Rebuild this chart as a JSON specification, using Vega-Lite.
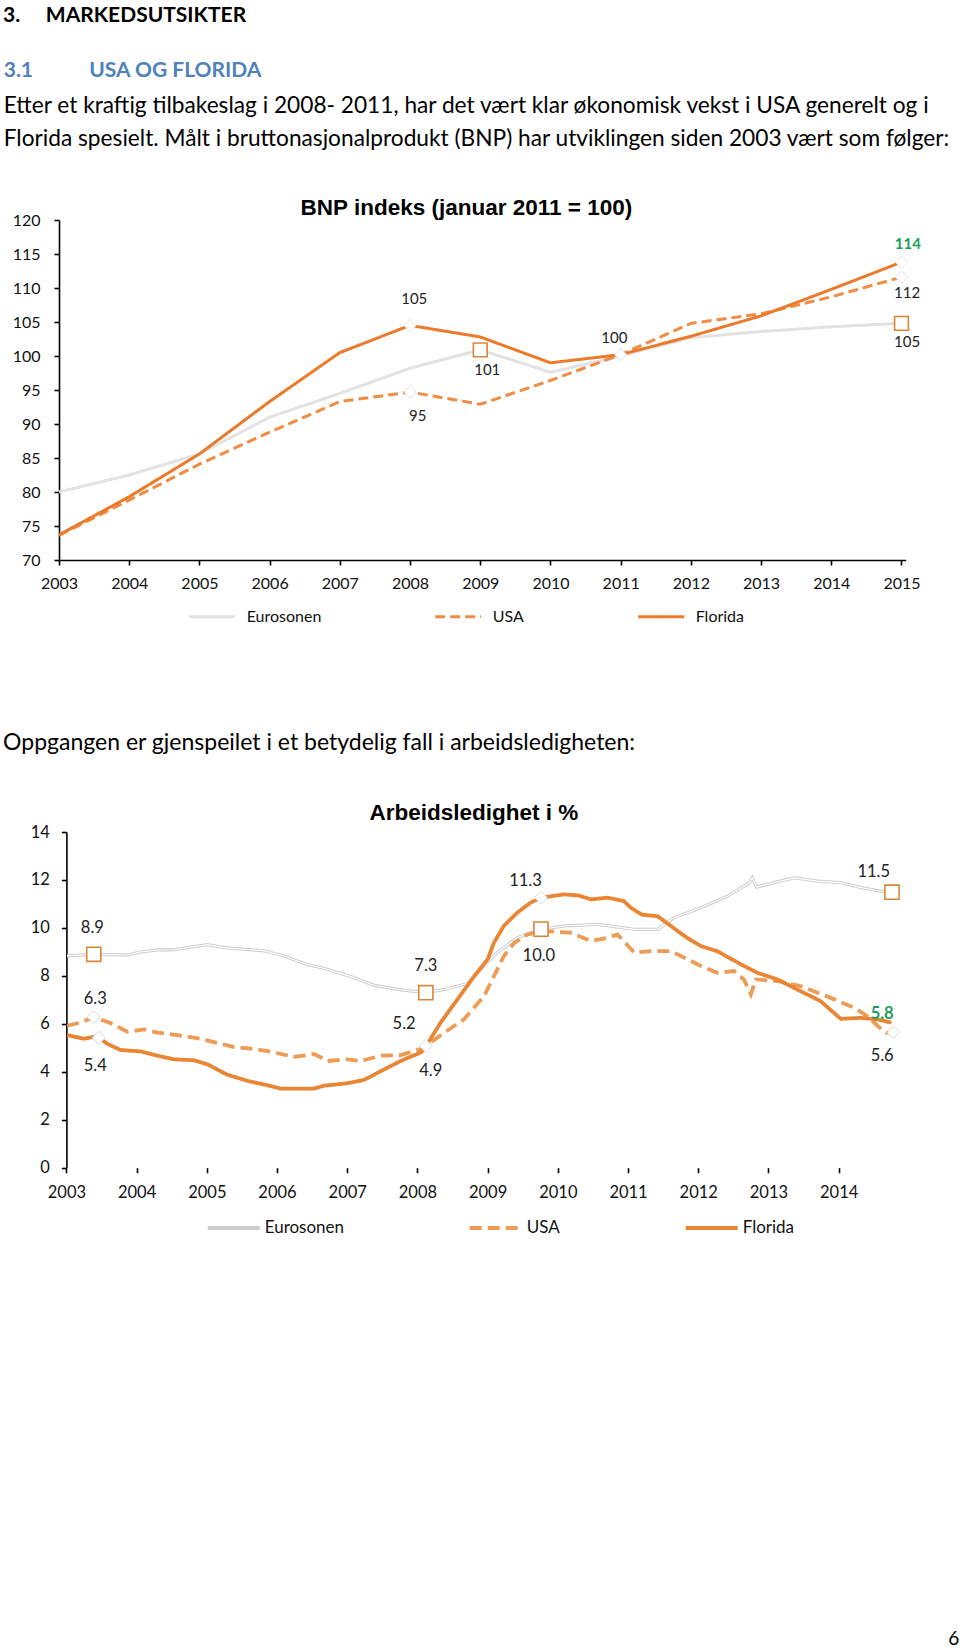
{
  "$schema": "https://vega.github.io/schema/vega-lite/v6.json",
  "background": "white",
  "padding": {"left": 3, "top": 4, "right": 0, "bottom": 0},
  "config": {
    "view": {"stroke": null},
    "font": "Lato",
    "axis": {"grid": false, "domainColor": "#000000", "domainWidth": 1.6, "tickColor": "#000000", "tickWidth": 1.6, "tickSize": 5, "labelFont": "Lato", "labelColor": "#111111", "labelFontSize": 16, "labelOverlap": false, "labelFlush": false}
  },
  "datasets": {
    "bnp": [
      {"year": 2003, "series": "Eurosonen", "value": 80.0}, {"year": 2004, "series": "Eurosonen", "value": 82.5}, {"year": 2005, "series": "Eurosonen", "value": 85.6}, {"year": 2006, "series": "Eurosonen", "value": 91.0}, {"year": 2007, "series": "Eurosonen", "value": 94.5}, {"year": 2008, "series": "Eurosonen", "value": 98.2}, {"year": 2009, "series": "Eurosonen", "value": 100.9}, {"year": 2010, "series": "Eurosonen", "value": 97.6}, {"year": 2011, "series": "Eurosonen", "value": 100.0}, {"year": 2012, "series": "Eurosonen", "value": 102.7}, {"year": 2013, "series": "Eurosonen", "value": 103.6}, {"year": 2014, "series": "Eurosonen", "value": 104.3}, {"year": 2015, "series": "Eurosonen", "value": 104.8},
      {"year": 2003, "series": "USA", "value": 73.6}, {"year": 2004, "series": "USA", "value": 78.8}, {"year": 2005, "series": "USA", "value": 84.1}, {"year": 2006, "series": "USA", "value": 88.8}, {"year": 2007, "series": "USA", "value": 93.3}, {"year": 2008, "series": "USA", "value": 94.7}, {"year": 2009, "series": "USA", "value": 92.9}, {"year": 2010, "series": "USA", "value": 96.4}, {"year": 2011, "series": "USA", "value": 100.2}, {"year": 2012, "series": "USA", "value": 104.8}, {"year": 2013, "series": "USA", "value": 106.2}, {"year": 2014, "series": "USA", "value": 108.7}, {"year": 2015, "series": "USA", "value": 111.6},
      {"year": 2003, "series": "Florida", "value": 73.7}, {"year": 2004, "series": "Florida", "value": 79.3}, {"year": 2005, "series": "Florida", "value": 85.6}, {"year": 2006, "series": "Florida", "value": 93.3}, {"year": 2007, "series": "Florida", "value": 100.5}, {"year": 2008, "series": "Florida", "value": 104.5}, {"year": 2009, "series": "Florida", "value": 102.8}, {"year": 2010, "series": "Florida", "value": 99.0}, {"year": 2011, "series": "Florida", "value": 100.2}, {"year": 2012, "series": "Florida", "value": 102.9}, {"year": 2013, "series": "Florida", "value": 105.9}, {"year": 2014, "series": "Florida", "value": 109.8}, {"year": 2015, "series": "Florida", "value": 113.8}
    ],
    "bnp_sq": [{"year": 2009, "value": 100.9}, {"year": 2015, "value": 104.8}],
    "bnp_dia": [{"year": 2008, "value": 104.5}, {"year": 2008, "value": 94.7}, {"year": 2011, "value": 100.2}, {"year": 2015, "value": 113.8}, {"year": 2015, "value": 111.6}],
    "bnp_lab": [
      {"year": 2008.06, "value": 108.4, "label": "105"},
      {"year": 2008.11, "value": 91.2, "label": "95"},
      {"year": 2009.1, "value": 98.0, "label": "101"},
      {"year": 2010.91, "value": 102.6, "label": "100"},
      {"year": 2015.08, "value": 109.2, "label": "112"},
      {"year": 2015.08, "value": 102.0, "label": "105"}
    ],
    "bnp_key": [{"year": 2015.09, "value": 116.5, "label": "114"}],
    "led": [
      {"t": 2003.01, "series": "Eurosonen", "rate": 8.83}, {"t": 2003.39, "series": "Eurosonen", "rate": 8.9}, {"t": 2003.87, "series": "Eurosonen", "rate": 8.87}, {"t": 2004.06, "series": "Eurosonen", "rate": 9.0}, {"t": 2004.3, "series": "Eurosonen", "rate": 9.08}, {"t": 2004.53, "series": "Eurosonen", "rate": 9.09}, {"t": 2004.78, "series": "Eurosonen", "rate": 9.2}, {"t": 2005.01, "series": "Eurosonen", "rate": 9.3}, {"t": 2005.25, "series": "Eurosonen", "rate": 9.18}, {"t": 2005.48, "series": "Eurosonen", "rate": 9.12}, {"t": 2005.81, "series": "Eurosonen", "rate": 9.05}, {"t": 2006.1, "series": "Eurosonen", "rate": 8.83}, {"t": 2006.43, "series": "Eurosonen", "rate": 8.47}, {"t": 2006.65, "series": "Eurosonen", "rate": 8.33}, {"t": 2006.81, "series": "Eurosonen", "rate": 8.19}, {"t": 2007.05, "series": "Eurosonen", "rate": 7.97}, {"t": 2007.38, "series": "Eurosonen", "rate": 7.61}, {"t": 2007.76, "series": "Eurosonen", "rate": 7.42}, {"t": 2008.12, "series": "Eurosonen", "rate": 7.3}, {"t": 2008.43, "series": "Eurosonen", "rate": 7.46}, {"t": 2008.71, "series": "Eurosonen", "rate": 7.68}, {"t": 2008.9, "series": "Eurosonen", "rate": 8.27}, {"t": 2009.14, "series": "Eurosonen", "rate": 8.97}, {"t": 2009.42, "series": "Eurosonen", "rate": 9.59}, {"t": 2009.76, "series": "Eurosonen", "rate": 9.95}, {"t": 2010.09, "series": "Eurosonen", "rate": 10.08}, {"t": 2010.56, "series": "Eurosonen", "rate": 10.15}, {"t": 2011.09, "series": "Eurosonen", "rate": 9.94}, {"t": 2011.42, "series": "Eurosonen", "rate": 9.94}, {"t": 2011.66, "series": "Eurosonen", "rate": 10.43}, {"t": 2012.04, "series": "Eurosonen", "rate": 10.84}, {"t": 2012.42, "series": "Eurosonen", "rate": 11.33}, {"t": 2012.65, "series": "Eurosonen", "rate": 11.74}, {"t": 2012.72, "series": "Eurosonen", "rate": 11.85}, {"t": 2012.77, "series": "Eurosonen", "rate": 12.1}, {"t": 2012.83, "series": "Eurosonen", "rate": 11.7}, {"t": 2013.08, "series": "Eurosonen", "rate": 11.89}, {"t": 2013.37, "series": "Eurosonen", "rate": 12.09}, {"t": 2013.7, "series": "Eurosonen", "rate": 11.95}, {"t": 2014.03, "series": "Eurosonen", "rate": 11.89}, {"t": 2014.32, "series": "Eurosonen", "rate": 11.68}, {"t": 2014.6, "series": "Eurosonen", "rate": 11.53}, {"t": 2014.76, "series": "Eurosonen", "rate": 11.49},
      {"t": 2003.01, "series": "USA", "rate": 5.92}, {"t": 2003.2, "series": "USA", "rate": 6.05}, {"t": 2003.39, "series": "USA", "rate": 6.28}, {"t": 2003.63, "series": "USA", "rate": 6.03}, {"t": 2003.87, "series": "USA", "rate": 5.67}, {"t": 2004.11, "series": "USA", "rate": 5.77}, {"t": 2004.3, "series": "USA", "rate": 5.63}, {"t": 2004.58, "series": "USA", "rate": 5.53}, {"t": 2004.91, "series": "USA", "rate": 5.38}, {"t": 2005.1, "series": "USA", "rate": 5.24}, {"t": 2005.39, "series": "USA", "rate": 5.03}, {"t": 2005.67, "series": "USA", "rate": 4.95}, {"t": 2005.96, "series": "USA", "rate": 4.81}, {"t": 2006.24, "series": "USA", "rate": 4.62}, {"t": 2006.53, "series": "USA", "rate": 4.74}, {"t": 2006.72, "series": "USA", "rate": 4.45}, {"t": 2007.0, "series": "USA", "rate": 4.52}, {"t": 2007.19, "series": "USA", "rate": 4.45}, {"t": 2007.48, "series": "USA", "rate": 4.67}, {"t": 2007.76, "series": "USA", "rate": 4.7}, {"t": 2008.05, "series": "USA", "rate": 4.95}, {"t": 2008.12, "series": "USA", "rate": 5.07}, {"t": 2008.38, "series": "USA", "rate": 5.63}, {"t": 2008.66, "series": "USA", "rate": 6.18}, {"t": 2008.95, "series": "USA", "rate": 7.16}, {"t": 2009.09, "series": "USA", "rate": 7.99}, {"t": 2009.23, "series": "USA", "rate": 8.82}, {"t": 2009.38, "series": "USA", "rate": 9.38}, {"t": 2009.57, "series": "USA", "rate": 9.73}, {"t": 2009.8, "series": "USA", "rate": 9.87}, {"t": 2010.18, "series": "USA", "rate": 9.8}, {"t": 2010.35, "series": "USA", "rate": 9.6}, {"t": 2010.47, "series": "USA", "rate": 9.45}, {"t": 2010.71, "series": "USA", "rate": 9.59}, {"t": 2010.85, "series": "USA", "rate": 9.73}, {"t": 2011.09, "series": "USA", "rate": 8.97}, {"t": 2011.33, "series": "USA", "rate": 9.03}, {"t": 2011.61, "series": "USA", "rate": 9.03}, {"t": 2011.8, "series": "USA", "rate": 8.76}, {"t": 2012.04, "series": "USA", "rate": 8.41}, {"t": 2012.27, "series": "USA", "rate": 8.13}, {"t": 2012.51, "series": "USA", "rate": 8.2}, {"t": 2012.65, "series": "USA", "rate": 7.85}, {"t": 2012.75, "series": "USA", "rate": 7.23}, {"t": 2012.82, "series": "USA", "rate": 7.85}, {"t": 2013.13, "series": "USA", "rate": 7.78}, {"t": 2013.46, "series": "USA", "rate": 7.57}, {"t": 2013.7, "series": "USA", "rate": 7.3}, {"t": 2013.94, "series": "USA", "rate": 7.02}, {"t": 2014.22, "series": "USA", "rate": 6.67}, {"t": 2014.41, "series": "USA", "rate": 6.32}, {"t": 2014.56, "series": "USA", "rate": 5.9}, {"t": 2014.68, "series": "USA", "rate": 5.63}, {"t": 2014.76, "series": "USA", "rate": 5.65},
      {"t": 2003.01, "series": "Florida", "rate": 5.53}, {"t": 2003.25, "series": "Florida", "rate": 5.38}, {"t": 2003.44, "series": "Florida", "rate": 5.48}, {"t": 2003.58, "series": "Florida", "rate": 5.17}, {"t": 2003.77, "series": "Florida", "rate": 4.91}, {"t": 2004.06, "series": "Florida", "rate": 4.85}, {"t": 2004.3, "series": "Florida", "rate": 4.67}, {"t": 2004.53, "series": "Florida", "rate": 4.52}, {"t": 2004.82, "series": "Florida", "rate": 4.48}, {"t": 2005.01, "series": "Florida", "rate": 4.31}, {"t": 2005.29, "series": "Florida", "rate": 3.88}, {"t": 2005.58, "series": "Florida", "rate": 3.62}, {"t": 2005.86, "series": "Florida", "rate": 3.44}, {"t": 2006.05, "series": "Florida", "rate": 3.3}, {"t": 2006.53, "series": "Florida", "rate": 3.3}, {"t": 2006.67, "series": "Florida", "rate": 3.42}, {"t": 2007.0, "series": "Florida", "rate": 3.52}, {"t": 2007.24, "series": "Florida", "rate": 3.66}, {"t": 2007.52, "series": "Florida", "rate": 4.09}, {"t": 2007.76, "series": "Florida", "rate": 4.45}, {"t": 2008.05, "series": "Florida", "rate": 4.81}, {"t": 2008.12, "series": "Florida", "rate": 5.05}, {"t": 2008.33, "series": "Florida", "rate": 6.05}, {"t": 2008.57, "series": "Florida", "rate": 7.02}, {"t": 2008.81, "series": "Florida", "rate": 7.99}, {"t": 2009.0, "series": "Florida", "rate": 8.69}, {"t": 2009.09, "series": "Florida", "rate": 9.38}, {"t": 2009.23, "series": "Florida", "rate": 10.08}, {"t": 2009.42, "series": "Florida", "rate": 10.63}, {"t": 2009.61, "series": "Florida", "rate": 11.05}, {"t": 2009.76, "series": "Florida", "rate": 11.26}, {"t": 2010.09, "series": "Florida", "rate": 11.4}, {"t": 2010.3, "series": "Florida", "rate": 11.35}, {"t": 2010.47, "series": "Florida", "rate": 11.19}, {"t": 2010.71, "series": "Florida", "rate": 11.26}, {"t": 2010.94, "series": "Florida", "rate": 11.12}, {"t": 2011.04, "series": "Florida", "rate": 10.84}, {"t": 2011.2, "series": "Florida", "rate": 10.55}, {"t": 2011.42, "series": "Florida", "rate": 10.49}, {"t": 2011.61, "series": "Florida", "rate": 10.08}, {"t": 2011.84, "series": "Florida", "rate": 9.59}, {"t": 2012.04, "series": "Florida", "rate": 9.24}, {"t": 2012.27, "series": "Florida", "rate": 9.03}, {"t": 2012.61, "series": "Florida", "rate": 8.48}, {"t": 2012.84, "series": "Florida", "rate": 8.13}, {"t": 2013.13, "series": "Florida", "rate": 7.85}, {"t": 2013.46, "series": "Florida", "rate": 7.36}, {"t": 2013.74, "series": "Florida", "rate": 6.95}, {"t": 2014.03, "series": "Florida", "rate": 6.21}, {"t": 2014.32, "series": "Florida", "rate": 6.25}, {"t": 2014.56, "series": "Florida", "rate": 6.18}, {"t": 2014.75, "series": "Florida", "rate": 6.05}
    ],
    "led_sq": [{"t": 2003.39, "rate": 8.9}, {"t": 2008.12, "rate": 7.3}, {"t": 2009.76, "rate": 9.95}, {"t": 2014.76, "rate": 11.49}],
    "led_dia": [{"t": 2003.39, "rate": 6.28}, {"t": 2003.46, "rate": 5.42}, {"t": 2008.12, "rate": 5.08}, {"t": 2009.76, "rate": 11.26}, {"t": 2014.78, "rate": 5.65}],
    "led_lab": [
      {"t": 2003.37, "rate": 10.01, "label": "8.9"},
      {"t": 2003.41, "rate": 7.05, "label": "6.3"},
      {"t": 2003.41, "rate": 4.24, "label": "5.4"},
      {"t": 2008.12, "rate": 8.41, "label": "7.3"},
      {"t": 2007.81, "rate": 5.98, "label": "5.2"},
      {"t": 2008.19, "rate": 4.03, "label": "4.9"},
      {"t": 2009.54, "rate": 11.95, "label": "11.3"},
      {"t": 2009.73, "rate": 8.82, "label": "10.0"},
      {"t": 2014.5, "rate": 12.33, "label": "11.5"},
      {"t": 2014.62, "rate": 4.65, "label": "5.6"}
    ],
    "led_key": [{"t": 2014.62, "rate": 6.43, "label": "5.8"}]
  },
  "title": {"text": "3.\u00a0\u00a0\u00a0\u00a0\u00a0MARKEDSUTSIKTER", "anchor": "start", "frame": "bounds", "font": "Lato", "fontSize": 21, "fontWeight": "bold", "color": "#000000", "offset": 34},
  "resolve": {"scale": {"x": "independent", "y": "independent", "color": "independent", "strokeDash": "independent"}},
  "columns": 1,
  "align": "none",
  "spacing": 106,
  "concat": [
    {
      "title": {
        "text": "3.1\u00a0\u00a0\u00a0\u00a0\u00a0\u00a0\u00a0\u00a0\u00a0\u00a0\u00a0USA OG FLORIDA",
        "subtitle": ["Etter et kraftig tilbakeslag i 2008- 2011, har det vært klar økonomisk vekst i USA generelt og i", "Florida spesielt. Målt i bruttonasjonalprodukt (BNP) har utviklingen siden 2003 vært som følger:"],
        "anchor": "start", "frame": "bounds", "font": "Lato", "fontSize": 21, "fontWeight": "bold", "color": "#4F81BD",
        "subtitleFont": "Lato", "subtitleFontSize": 22.7, "subtitleFontWeight": "normal", "subtitleColor": "#000000", "subtitleLineHeight": 33, "subtitlePadding": 14.5, "offset": 46
      },
      "vconcat": [
        {
          "width": 846.7,
          "height": 340,
          "title": {"text": "BNP indeks (januar 2011 = 100)", "font": "Liberation Sans", "fontSize": 22.5, "fontWeight": "bold", "color": "#000000", "anchor": "middle", "frame": "group", "dx": -16, "offset": -7.6},
          "encoding": {
            "x": {"field": "year", "type": "quantitative", "title": null, "scale": {"domain": [2003, 2015.06], "nice": false, "zero": false}, "axis": {"values": [2003, 2004, 2005, 2006, 2007, 2008, 2009, 2010, 2011, 2012, 2013, 2014, 2015], "format": "d", "labelPadding": 10}},
            "y": {"field": "value", "type": "quantitative", "title": null, "scale": {"domain": [70, 120], "nice": false, "zero": false}, "axis": {"values": [70, 75, 80, 85, 90, 95, 100, 105, 110, 115, 120], "labelPadding": 14, "minExtent": 55.3, "labelOverlap": false}}
          },
          "layer": [
            {
              "data": {"name": "bnp"},
              "transform": [{"filter": "datum.series === 'Eurosonen'"}],
              "mark": {"type": "line", "strokeWidth": 3},
              "encoding": {
                "color": {"field": "series", "type": "nominal", "scale": {"domain": ["Eurosonen", "USA", "Florida"], "range": ["#E2E2E2", "#F08C44", "#EC7A2A"]}, "legend": {"title": null, "orient": "none", "legendX": 128.7, "legendY": 372, "direction": "horizontal", "symbolType": "stroke", "symbolSize": 2116, "symbolStrokeWidth": 3, "labelFont": "Lato", "labelFontSize": 16, "labelColor": "#111111", "labelOffset": 10, "columnPadding": 107, "padding": 0}},
                "strokeDash": {"field": "series", "type": "nominal", "scale": {"domain": ["Eurosonen", "USA", "Florida"], "range": [[1, 0], [10, 5], [1, 0]]}, "legend": {"title": null, "orient": "none", "legendX": 128.7, "legendY": 372, "direction": "horizontal", "symbolType": "stroke", "symbolSize": 2116, "symbolStrokeWidth": 3, "labelFont": "Lato", "labelFontSize": 16, "labelColor": "#111111", "labelOffset": 10, "columnPadding": 107, "padding": 0}}
              }
            },
            {
              "data": {"name": "bnp"},
              "transform": [{"filter": "datum.series !== 'Eurosonen'"}],
              "mark": {"type": "line", "strokeWidth": 3},
              "encoding": {
                "color": {"field": "series", "type": "nominal"},
                "strokeDash": {"field": "series", "type": "nominal"}
              }
            },
            {
              "data": {"name": "bnp_dia"},
              "mark": {"type": "point", "shape": "diamond", "size": 150, "filled": true, "fill": "#FFFFFF", "stroke": "#E4E4E4", "strokeWidth": 1, "opacity": 1}
            },
            {
              "data": {"name": "bnp_sq"},
              "mark": {"type": "point", "shape": "square", "size": 190, "filled": true, "fill": "#FFFFFF", "stroke": "#D5873A", "strokeWidth": 1.6, "opacity": 1}
            },
            {
              "data": {"name": "bnp_lab"},
              "mark": {"type": "text", "font": "Lato", "fontSize": 15, "color": "#222222", "align": "center", "baseline": "middle"},
              "encoding": {"text": {"field": "label"}}
            },
            {
              "data": {"name": "bnp_key"},
              "mark": {"type": "text", "font": "Lato", "fontSize": 15, "fontWeight": "bold", "color": "#1E9E5E", "align": "center", "baseline": "middle"},
              "encoding": {"text": {"field": "label"}}
            }
          ]
        }
      ]
    },
    {
      "title": {"text": "6", "orient": "bottom", "anchor": "end", "frame": "bounds", "font": "Lato", "fontSize": 19, "fontWeight": "normal", "color": "#000000", "offset": 394, "dx": 57},
      "vconcat": [
        {
          "title": {"text": "Oppgangen er gjenspeilet i et betydelig fall i arbeidsledigheten:", "anchor": "start", "frame": "bounds", "font": "Lato", "fontSize": 23, "fontWeight": "normal", "color": "#000000", "offset": 47, "dx": -8},
          "vconcat": [
            {
              "width": 835.8,
              "height": 335.7,
              "title": {"text": "Arbeidsledighet i %", "font": "Liberation Sans", "fontSize": 22.5, "fontWeight": "bold", "color": "#000000", "anchor": "middle", "frame": "group", "dx": -3, "offset": 0},
              "encoding": {
                "x": {"field": "t", "type": "quantitative", "title": null, "scale": {"domain": [2002.8946, 2014.8], "nice": false, "zero": false}, "axis": {"values": [2003, 2004, 2005, 2006, 2007, 2008, 2009, 2010, 2011, 2012, 2013, 2014], "format": "d", "labelPadding": 12, "labelFontSize": 16.5, "domain": false}},
                "y": {"field": "rate", "type": "quantitative", "title": null, "scale": {"domain": [0, 14], "nice": false, "zero": false}, "axis": {"values": [0, 2, 4, 6, 8, 10, 12, 14], "labelPadding": 12, "labelFontSize": 16.5, "minExtent": 55.3, "offset": -7.4}}
              },
              "layer": [
                {
                  "data": {"values": [{}]},
                  "mark": {"type": "rule", "color": "#000000", "strokeWidth": 1.6},
                  "encoding": {"x": {"datum": 2003}, "x2": {"datum": 2014.8}, "y": {"datum": 0}}
                },
                {
                  "data": {"name": "led"},
                  "transform": [{"filter": "datum.series === 'Eurosonen'"}],
                  "mark": {"type": "line", "strokeWidth": 3.2},
                  "encoding": {
                    "color": {"field": "series", "type": "nominal", "scale": {"domain": ["Eurosonen", "USA", "Florida"], "range": ["#CDCDCD", "#EE9B55", "#EA8534"]}, "legend": {"title": null, "orient": "none", "legendX": 146.7, "legendY": 368, "direction": "horizontal", "symbolType": "stroke", "symbolSize": 2704, "symbolStrokeWidth": 4, "labelFont": "Lato", "labelFontSize": 17, "labelColor": "#111111", "labelOffset": 3, "columnPadding": 117, "padding": 0}},
                    "strokeDash": {"field": "series", "type": "nominal", "scale": {"domain": ["Eurosonen", "USA", "Florida"], "range": [[1, 0], [12, 6], [1, 0]]}, "legend": {"title": null, "orient": "none", "legendX": 146.7, "legendY": 368, "direction": "horizontal", "symbolType": "stroke", "symbolSize": 2704, "symbolStrokeWidth": 4, "labelFont": "Lato", "labelFontSize": 17, "labelColor": "#111111", "labelOffset": 3, "columnPadding": 117, "padding": 0}}
                  }
                },
                {
                  "data": {"name": "led"},
                  "transform": [{"filter": "datum.series === 'Eurosonen'"}],
                  "mark": {"type": "line", "strokeWidth": 1.2, "color": "#FFFFFF"}
                },
                {
                  "data": {"name": "led"},
                  "transform": [{"filter": "datum.series !== 'Eurosonen'"}],
                  "mark": {"type": "line", "strokeWidth": 3.8},
                  "encoding": {
                    "color": {"field": "series", "type": "nominal"},
                    "strokeDash": {"field": "series", "type": "nominal"}
                  }
                },
                {
                  "data": {"name": "led_dia"},
                  "mark": {"type": "point", "shape": "diamond", "size": 170, "filled": true, "fill": "#FFFFFF", "stroke": "#D8D8D8", "strokeWidth": 1, "opacity": 1}
                },
                {
                  "data": {"name": "led_sq"},
                  "mark": {"type": "point", "shape": "square", "size": 200, "filled": true, "fill": "#FFFFFF", "stroke": "#D5873A", "strokeWidth": 1.6, "opacity": 1}
                },
                {
                  "data": {"name": "led_lab"},
                  "mark": {"type": "text", "font": "Lato", "fontSize": 16.5, "color": "#222222", "align": "center", "baseline": "middle"},
                  "encoding": {"text": {"field": "label"}}
                },
                {
                  "data": {"name": "led_key"},
                  "mark": {"type": "text", "font": "Lato", "fontSize": 16.5, "fontWeight": "bold", "color": "#1E9E5E", "align": "center", "baseline": "middle"},
                  "encoding": {"text": {"field": "label"}}
                }
              ]
            }
          ]
        }
      ]
    }
  ]
}
